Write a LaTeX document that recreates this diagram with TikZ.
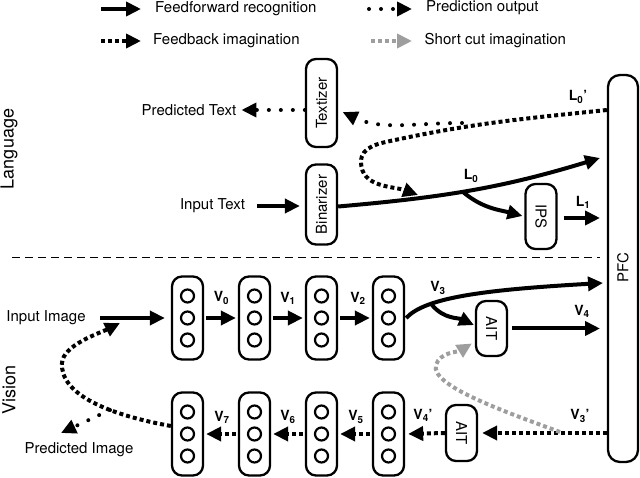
\documentclass[tikz,border=0pt]{standalone}
\usepackage{fontspec}
\setmainfont{TeX Gyre Heros}
\usetikzlibrary{arrows.meta}
\definecolor{scgray}{gray}{0.62}
\begin{document}
\begin{tikzpicture}[x=1pt,y=1pt,
  box/.style={draw, line width=2.3pt, rounded corners=10pt, minimum width=31pt, inner sep=0pt},
  col/.style={box, minimum height=83pt},
  unit/.style={circle, draw, line width=2.2pt, minimum size=13pt, inner sep=0pt},
  tip/.style={-{Triangle[length=15pt,width=14pt]}},
  ff/.style={line width=4pt, tip},
  fb/.style={line width=4pt, dash pattern=on 4pt off 3pt, tip},
  pred/.style={line width=4pt, line cap=round, dash pattern=on 0pt off 12pt, tip},
  sc/.style={fb, draw=scgray, color=scgray},
  lab/.style={font=\fontsize{15}{18}\selectfont, inner sep=0pt},
  big/.style={font=\fontsize{18}{21}\selectfont, inner sep=0pt, rotate=90},
  sub/.style={font=\fontsize{14}{16}\selectfont\bfseries, inner sep=0pt},
  btext/.style={box, font=\fontsize{15}{18}\selectfont}
]
\useasboundingbox (0,0) rectangle (640,-478);

% ---------- legend ----------
\coordinate (la1) at (101,-9);  \coordinate (lb1) at (141,-9);
\coordinate (la2) at (101,-41); \coordinate (lb2) at (141,-41);
\coordinate (la3) at (369,-9);  \coordinate (lb3) at (412,-9);
\coordinate (la4) at (371,-41); \coordinate (lb4) at (412,-41);
\draw[ff] (la1) -- (lb1);
\draw[fb] (la2) -- (lb2);
\draw[pred] (la3) -- (lb3);
\draw[sc] (la4) -- (lb4);
\node[lab, anchor=west] (lt1) at (155,-9) {Feedforward recognition};
\node[lab, anchor=west] (lt2) at (153,-41) {Feedback imagination};
\node[lab, anchor=west] (lt3) at (426,-8) {Prediction output};
\node[lab, anchor=west] (lt4) at (424.5,-41) {Short cut imagination};

% ---------- side labels and separator ----------
\node[big] (lang) at (9,-149) {Language};
\node[big] (vis) at (9,-390) {Vision};
\coordinate (sepa) at (12,-258);
\coordinate (sepb) at (600,-258);
\draw[line width=1pt, dash pattern=on 8pt off 5pt] (sepa) -- (sepb);

% ---------- PFC ----------
\node[box, rounded corners=12pt, minimum width=30pt, minimum height=387pt] (pfc) at (623,-268.5) {};
\node[lab, rotate=90] (pfct) at (623,-268) {PFC};

% ---------- language ----------
\node[btext, minimum height=88pt] (tex) at (321.5,-103) {\rotatebox{90}{Textizer}};
\node[btext, minimum height=80pt] (bin) at (321.5,-204.5) {\rotatebox{90}{Binarizer}};
\node[btext, minimum height=65pt] (ips) at (541,-216.5) {\rotatebox{-90}{IPS}};
\node[lab] (pt) at (189,-110) {Predicted Text};
\node[lab] (it) at (212.5,-206) {Input Text};

\draw[ff, shorten <=12pt, shorten >=5pt] (it.east) -- (it.east -| bin.west);
\draw[pred, shorten >=5pt] ([yshift=-7pt]tex.west) -- (pt.east);

\coordinate (l0end) at (600,-158);
\coordinate (l0b) at (463,-192);
\coordinate (l1end) at (600,-218);
\draw[ff] ([yshift=-2pt]bin.east) to[out=5,in=197] (l0end);
\draw[ff, shorten >=2pt] (l0b) to[out=-40,in=165] (ips.west);
\draw[ff, shorten <=6pt] (ips.east |- l1end) -- (l1end);

\coordinate (spl) at (462,-123);
\coordinate (lt) at (361,-162);
\coordinate (lm) at (395,-140);
\coordinate (ltip) at (418,-195);
\draw[fb] (pfc.west |- 0,-110) to[out=186,in=12] (lm) to[out=192,in=90] (lt) to[out=-90,in=160] (ltip);
\draw[pred, shorten >=5pt] (spl) to[out=180,in=-25] ([yshift=-7pt]tex.east);

\node[sub] (l0) at (471,-176) {L\textsubscript{0}};
\node[sub] (l1) at (583,-202) {L\textsubscript{1}};
\node[sub] (l0p) at (578,-97) {L\textsubscript{0}’};

% ---------- vision columns ----------
\foreach \i/\x in {1/187.5,2/254.5,3/321.5,4/388.5}{
  \node[col] (t\i) at (\x,-318) {};
  \node[col] (b\i) at (\x,-434) {};
  \foreach \k/\y in {a/296,b/318,c/340}{
    \node[unit] (t\i\k) at (\x,-\y) {};
  }
  \foreach \k/\y in {a/412,b/434,c/456}{
    \node[unit] (b\i\k) at (\x,-\y) {};
  }
}
\node[btext, minimum height=55pt] (ait) at (491.5,-328.5) {\rotatebox{-90}{AIT}};
\node[btext, minimum height=56pt] (aitb) at (461.5,-433) {\rotatebox{-90}{AIT}};
\node[lab] (ii) at (46,-318) {Input Image};
\node[lab] (pi) at (79,-450) {Predicted Image};

% feedforward
\draw[ff, shorten <=14pt, shorten >=6pt] (ii.east) -- (t1.west);
\draw[ff, shorten <=2pt, shorten >=2pt] (t1.east) -- (t2.west);
\draw[ff, shorten <=2pt, shorten >=2pt] (t2.east) -- (t3.west);
\draw[ff, shorten <=2pt, shorten >=2pt] (t3.east) -- (t4.west);
\coordinate (v3end) at (603,-283);
\coordinate (v3b) at (432,-305);
\coordinate (v4end) at (600,-328.5);
\draw[ff] ([xshift=1pt]t4.east) .. controls (425,-298) and (480,-290) .. (v3end);
\draw[ff, shorten >=1pt] (v3b) to[out=-50,in=155] ([yshift=3pt]ait.west);
\draw[ff, shorten <=4pt] (ait.east) -- (v4end);

% feedback
\draw[fb, shorten >=4pt] (pfc.west |- aitb.east) -- (aitb.east);
\draw[fb, shorten >=3pt] (aitb.west) -- (b4.east);
\draw[fb, shorten <=2pt, shorten >=2pt] (b4.west) -- (b3.east);
\draw[fb, shorten <=2pt, shorten >=2pt] (b3.west) -- (b2.east);
\draw[fb, shorten <=2pt, shorten >=2pt] (b2.west) -- (b1.east);
\coordinate (vl) at (62,-363);
\coordinate (vtip) at (120,-323);
\coordinate (pis) at (110,-410);
\coordinate (pitip) at (61,-433);
\draw[fb] ([yshift=8pt]b1.west) .. controls (110,-415) and (60,-395) .. (vl) .. controls (63,-345) and (100,-333) .. (vtip);
\draw[pred] (pis) -- (pitip);

% short cut
\coordinate (g0) at (560,-432);
\coordinate (gl) at (436,-365);
\draw[sc] (g0) .. controls (500,-410) and (430,-385) .. (gl) .. controls (440,-352) and (458,-352) .. ([shift={(-3pt,-15pt)}]ait.west);

\node[sub] (v0) at (221.5,-298) {V\textsubscript{0}};
\node[sub] (v1) at (288,-298) {V\textsubscript{1}};
\node[sub] (v2) at (358,-298) {V\textsubscript{2}};
\node[sub] (v3) at (438,-288) {V\textsubscript{3}};
\node[sub] (v4) at (582,-311) {V\textsubscript{4}};
\node[sub] (v3p) at (580,-416) {V\textsubscript{3}’};
\node[sub] (v4p) at (423,-415) {V\textsubscript{4}’};
\node[sub] (v5) at (356,-417) {V\textsubscript{5}};
\node[sub] (v6) at (288,-417) {V\textsubscript{6}};
\node[sub] (v7) at (222,-417) {V\textsubscript{7}};
\end{tikzpicture}
\end{document}
